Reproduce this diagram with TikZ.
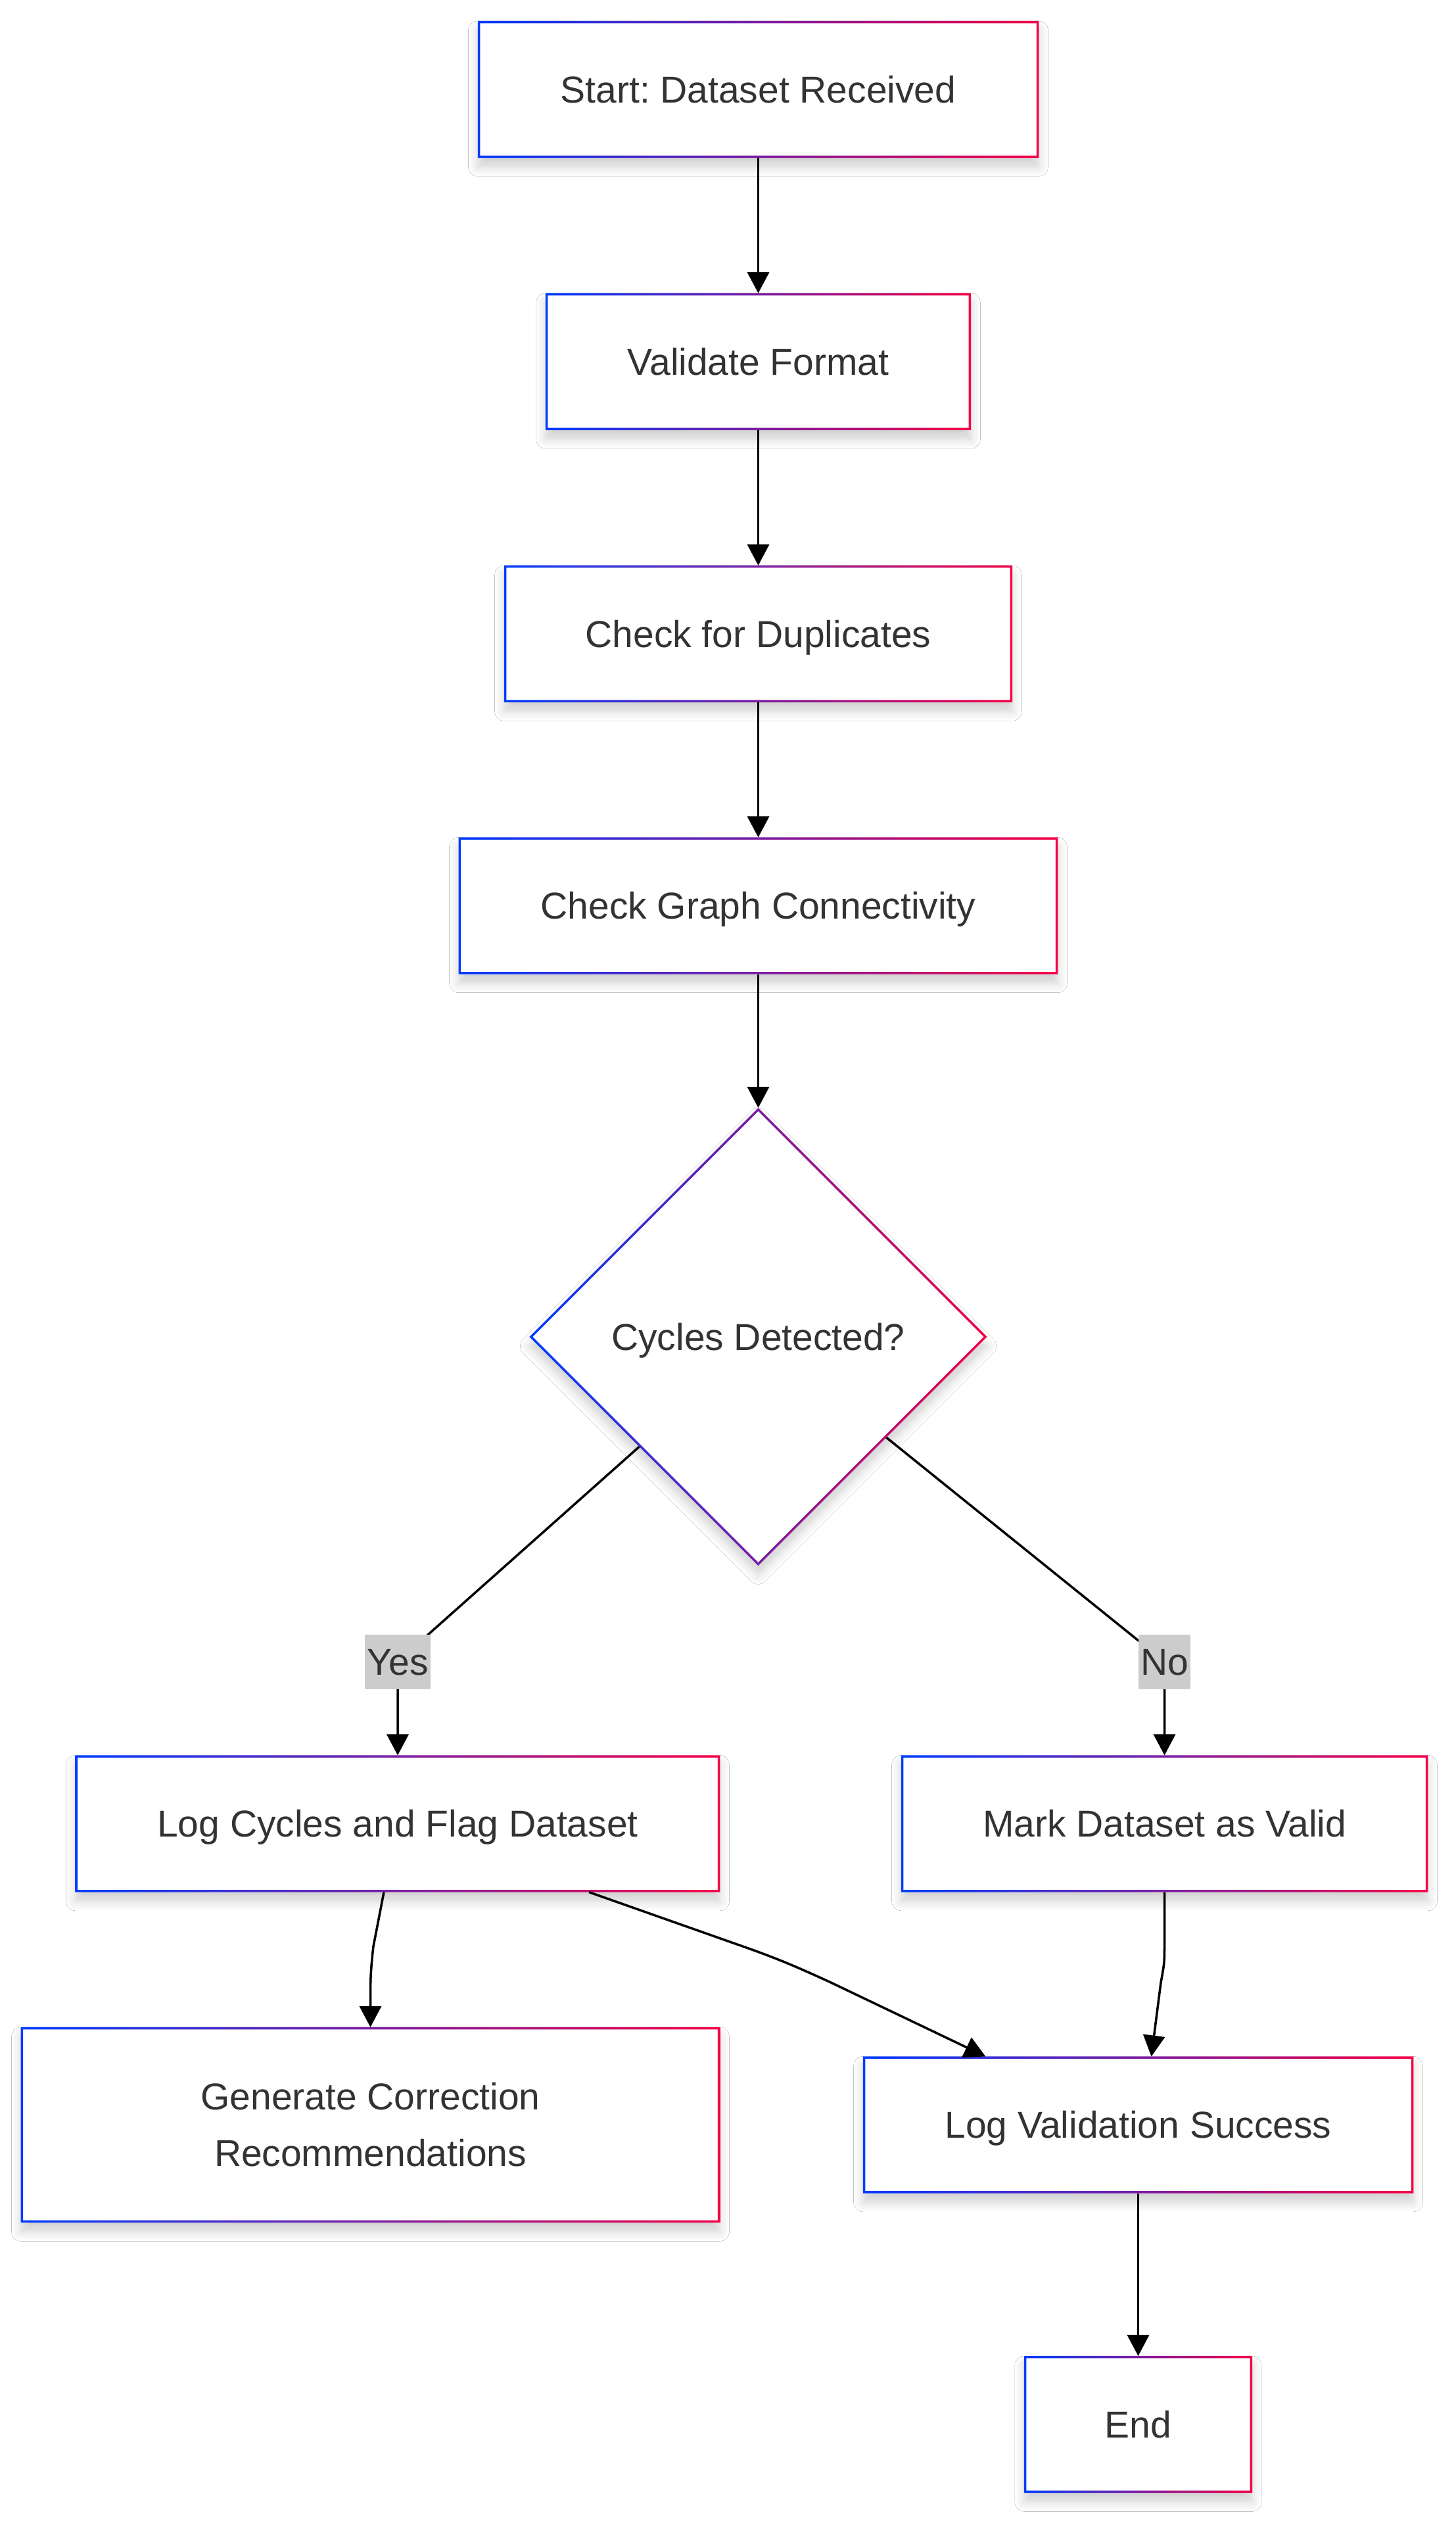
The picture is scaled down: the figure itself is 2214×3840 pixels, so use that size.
\documentclass[tikz,border=0pt]{standalone}
\usepackage{fontspec}
\setmainfont{Liberation Sans}
\frenchspacing
\usetikzlibrary{shapes.geometric,arrows.meta,shadows.blur,calc}
\definecolor{gblue}{RGB}{0,60,255}
\definecolor{gred}{RGB}{245,0,70}
\definecolor{txt}{HTML}{333333}
\definecolor{lblgray}{HTML}{CCCCCC}
\tikzset{
  nodefont/.style={font=\fontsize{16.2}{24.4}\selectfont},
  softshadow/.style={blur shadow={shadow xshift=0pt, shadow yshift=-4pt, shadow blur radius=4pt, shadow blur steps=6, shadow opacity=18}},
  box/.style={rectangle, fill=white, draw=none, outer sep=0pt, inner sep=0pt, text=txt, nodefont, align=center, minimum height=2.08cm, text height=12.6pt, text depth=1.2pt, softshadow},
  decision/.style={diamond, fill=white, draw=none, outer sep=0pt, inner sep=0pt, text=txt, nodefont, text height=12.6pt, text depth=1.2pt, minimum width=6.96cm, minimum height=6.96cm, softshadow},
  arr/.style={draw=black, line width=1pt, -{Triangle[length=0.32cm,width=0.33cm]}},
  lbl/.style={fill=lblgray, text=txt, nodefont, inner xsep=1pt, inner ysep=0pt, text height=12.6pt, text depth=1.2pt, minimum height=0.83cm},
}
\newcommand\gframe[1]{\shade[left color=gblue,right color=gred,even odd rule] (#1.south west) rectangle (#1.north east) ([shift={(0.035cm,0.035cm)}]#1.south west) rectangle ([shift={(-0.035cm,-0.035cm)}]#1.north east);}
\newcommand\dframe[1]{\shade[left color=gblue,right color=gred,even odd rule] (#1.north) -- (#1.east) -- (#1.south) -- (#1.west) -- cycle ([yshift=-0.05cm]#1.north) -- ([xshift=-0.05cm]#1.east) -- ([yshift=0.05cm]#1.south) -- ([xshift=0.05cm]#1.west) -- cycle;}
\begin{document}
\begin{tikzpicture}[x=0.01cm,y=-0.01cm]
\fill[white] (0,0) rectangle (2214,3840);
\useasboundingbox (0,0) rectangle (2214,3840);

\node[box, minimum width=8.53cm] (start) at (1153.5,136) {Start: Dataset Received};
\node[box, minimum width=6.47cm] (valid) at (1153.5,550) {Validate Format};
\node[box, minimum width=7.73cm] (dups) at (1153.5,964) {Check for Duplicates};
\node[box, minimum width=9.11cm] (conn) at (1153.5,1377.5) {Check Graph Connectivity};
\node[decision] (dia) at (1153.5,2033) {Cycles Detected?};
\node[box, minimum width=9.80cm] (logc) at (605,2773.5) {Log Cycles and Flag Dataset};
\node[box, minimum width=8.01cm] (mark) at (1771.5,2773.5) {Mark Dataset as Valid};
\node[box, minimum width=10.63cm, minimum height=2.97cm, text height=, text depth=] (gen) at (563.5,3231.5) {Generate Correction\\Recommendations};
\node[box, minimum width=8.37cm] (lv) at (1731.5,3231.5) {Log Validation Success};
\node[box, minimum width=3.47cm] (end) at (1731.5,3687) {End};

\gframe{start}\gframe{valid}\gframe{dups}\gframe{conn}
\dframe{dia}
\gframe{logc}\gframe{mark}\gframe{gen}\gframe{lv}\gframe{end}

\draw[arr] (start.south) -- (valid.north);
\draw[arr] (valid.south) -- (dups.north);
\draw[arr] (dups.south) -- (conn.north);
\draw[arr] (conn.south) -- (dia.north);

\coordinate (yc) at (605,2527);
\coordinate (nc) at (1771.5,2527);
\draw[arr] ($(dia.west)!0.48!(dia.south)$) -- (yc) -- (logc.north);
\draw[arr] ($(dia.east)!0.44!(dia.south)$) -- (nc) -- (mark.north);
\node[lbl] (yes) at (yc) {Yes};
\node[lbl] (no) at (nc) {No};

\draw[arr] ([xshift=-0.21cm]logc.south) -- (568,2960) .. controls (564,2995) and (563.5,3010) .. (563.5,3040) -- (gen.north);
\draw[arr] ([xshift=2.91cm]logc.south) -- (1130,2960) .. controls (1190,2981) and (1220,2995) .. (1262,3014) -- ([xshift=-2.32cm]lv.north);
\draw[arr] (mark.south) -- (1771.5,2950) .. controls (1771.5,2985) .. (1766,3015) -- ([xshift=0.2cm]lv.north);
\draw[arr] (lv.south) -- (end.north);
\end{tikzpicture}
\end{document}
